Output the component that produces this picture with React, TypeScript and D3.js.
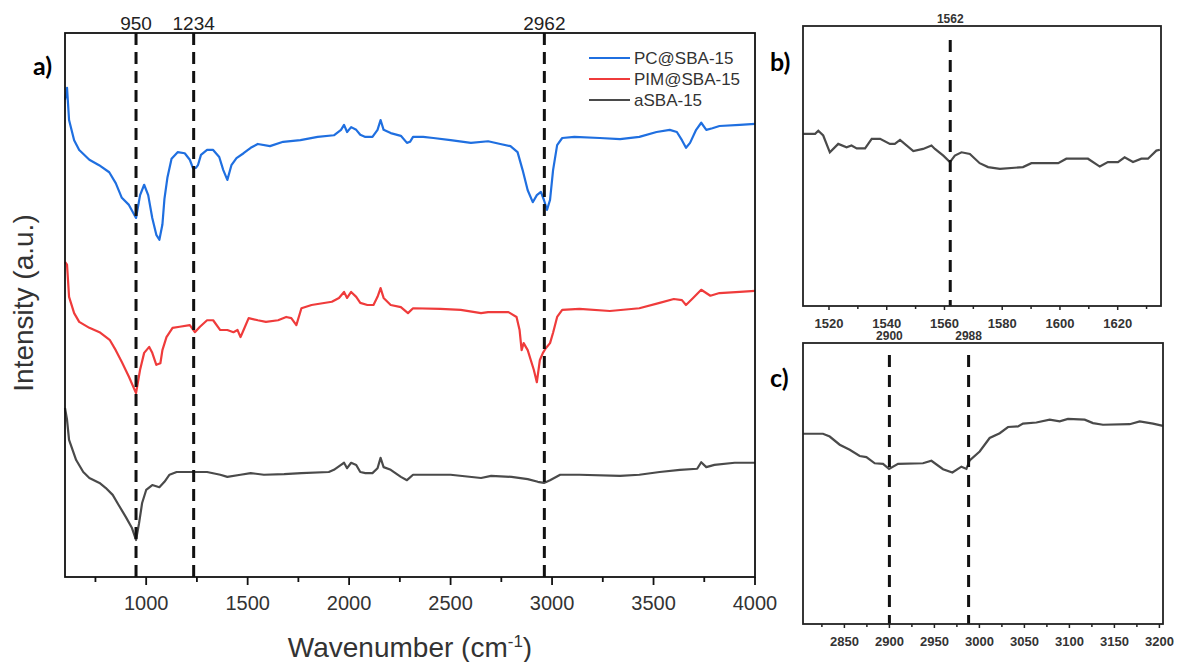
import React from "react";
import * as d3 from "d3";

// ---------- DATA ----------
const seriesNames = ["PC@SBA-15", "PIM@SBA-15", "aSBA-15"];
const seriesColors = ["#1f6fe0", "#ef3b3b", "#4a4a4a"];

// [wavenumber (cm-1), intensity (a.u.)]
const pcSBA15: [number, number][] = [
  [600, 87.7], [610, 89.9], [620, 84.0], [645, 80.3], [670, 78.5], [720, 76.7], [768, 75.7],
  [818, 74.4], [850, 72.4], [880, 69.7], [915, 68.4], [950, 66.0], [970, 70.2], [990, 72.1],
  [1010, 70.2], [1030, 66.0], [1050, 62.9], [1065, 62.0], [1080, 64.8], [1090, 69.5],
  [1105, 73.5], [1125, 76.9], [1155, 78.1], [1190, 77.9], [1215, 76.7], [1230, 75.2],
  [1245, 75.2], [1255, 75.7], [1270, 77.6], [1300, 78.5], [1330, 78.5], [1360, 77.2],
  [1380, 74.8], [1400, 73.0], [1420, 75.7], [1445, 77.0], [1480, 77.9], [1515, 78.9],
  [1550, 79.6], [1610, 79.2], [1675, 80.0], [1760, 80.3], [1845, 80.9], [1925, 81.2],
  [1960, 82.2], [1975, 83.1], [1990, 81.8], [2010, 82.7], [2035, 82.2], [2055, 81.3],
  [2080, 80.9], [2115, 80.9], [2140, 82.2], [2155, 84.0], [2170, 82.2], [2205, 81.6],
  [2255, 81.1], [2285, 79.8], [2300, 80.0], [2315, 80.9], [2365, 80.9], [2415, 80.7],
  [2500, 80.3], [2600, 79.8], [2685, 80.1], [2745, 79.6], [2795, 79.2], [2830, 78.1],
  [2855, 74.8], [2880, 71.1], [2905, 68.9], [2925, 70.2], [2945, 70.8], [2960, 69.3],
  [2975, 67.5], [2990, 69.3], [3005, 74.8], [3025, 79.4], [3050, 80.7], [3110, 80.9],
  [3235, 80.7], [3335, 80.5], [3430, 80.9], [3515, 81.8], [3580, 82.2], [3615, 81.8],
  [3640, 80.3], [3660, 78.9], [3680, 79.8], [3710, 82.2], [3735, 83.5], [3760, 82.2],
  [3790, 82.5], [3825, 82.9], [3925, 83.1], [4000, 83.3],
];

const pimSBA15: [number, number][] = [
  [600, 57.9], [610, 57.4], [620, 51.5], [645, 48.5], [670, 46.9], [720, 45.8], [770, 45.0],
  [820, 43.6], [850, 41.7], [880, 39.5], [915, 36.8], [950, 33.8], [970, 38.1], [990, 41.2],
  [1015, 42.3], [1030, 41.2], [1050, 39.0], [1070, 39.3], [1080, 41.7], [1100, 44.1],
  [1130, 45.8], [1165, 46.0], [1215, 46.3], [1240, 45.0], [1265, 46.0], [1300, 47.2],
  [1330, 47.2], [1365, 45.4], [1400, 45.4], [1430, 45.0], [1450, 45.4], [1465, 44.1],
  [1480, 45.4], [1505, 47.6], [1550, 47.2], [1590, 46.9], [1650, 47.2], [1690, 47.8],
  [1715, 47.6], [1740, 46.3], [1765, 49.4], [1815, 50.0], [1915, 50.6], [1950, 51.3],
  [1975, 52.4], [1990, 51.3], [2010, 52.4], [2035, 51.5], [2055, 50.4], [2090, 50.0],
  [2120, 50.0], [2140, 51.5], [2155, 53.1], [2170, 51.3], [2205, 50.0], [2255, 49.6],
  [2290, 48.5], [2315, 49.4], [2450, 49.3], [2550, 49.1], [2650, 48.5], [2685, 48.7],
  [2785, 48.7], [2825, 47.8], [2840, 45.4], [2850, 41.7], [2860, 43.0], [2880, 41.7],
  [2910, 38.1], [2925, 35.8], [2940, 39.9], [2955, 41.2], [2970, 42.1], [2990, 43.0],
  [3005, 44.9], [3025, 47.8], [3050, 49.1], [3135, 49.3], [3285, 48.9], [3430, 49.4],
  [3530, 50.4], [3600, 51.1], [3640, 50.9], [3660, 50.0], [3695, 51.3], [3735, 52.8],
  [3780, 51.7], [3825, 52.2], [3925, 52.4], [4000, 52.6],
];

const aSBA15: [number, number][] = [
  [600, 31.1], [610, 28.9], [620, 25.2], [655, 21.5], [690, 19.3], [720, 18.2], [770, 17.3],
  [800, 16.4], [835, 15.1], [865, 13.2], [900, 11.0], [930, 9.0], [950, 6.8], [965, 9.9],
  [980, 13.6], [1000, 16.0], [1030, 16.9], [1065, 16.5], [1090, 17.5], [1115, 18.8],
  [1150, 19.3], [1215, 19.3], [1300, 19.3], [1365, 18.8], [1400, 18.4], [1465, 18.8],
  [1515, 19.1], [1580, 18.8], [1680, 18.9], [1765, 19.1], [1900, 19.3], [1925, 19.7],
  [1960, 20.6], [1975, 21.0], [1990, 20.0], [2010, 21.0], [2035, 20.6], [2055, 19.3],
  [2080, 19.1], [2115, 19.1], [2140, 20.0], [2155, 21.9], [2170, 20.2], [2205, 19.7],
  [2255, 18.4], [2285, 17.8], [2315, 18.8], [2400, 18.8], [2500, 18.8], [2650, 18.2],
  [2700, 18.6], [2800, 18.4], [2880, 18.0], [2930, 17.5], [2960, 17.3], [2990, 17.8],
  [3040, 18.8], [3135, 18.8], [3335, 18.6], [3430, 18.8], [3530, 19.3], [3630, 19.7],
  [3715, 19.9], [3735, 21.1], [3760, 20.2], [3800, 20.6], [3900, 21.0], [4000, 21.0],
];

const insetB: [number, number][] = [
  [1511, 61.5], [1515.2, 61.5], [1516.3, 62.6], [1518, 60.9], [1520.3, 54.9], [1523.2, 57.9],
  [1526.1, 56.7], [1527.8, 57.3], [1529.6, 56.3], [1532.5, 56.3], [1534.8, 59.7], [1537.7, 59.7],
  [1541.1, 57.9], [1542.8, 57.9], [1544.6, 59.3], [1549.2, 55.3], [1552.6, 56.1], [1555.5, 57.3],
  [1556.7, 56.1], [1559.6, 53.7], [1561.9, 51.4], [1563.6, 53.7], [1565.9, 54.9], [1568.8, 54.3],
  [1572.2, 51.0], [1575.1, 49.6], [1579.2, 49.0], [1587.2, 49.6], [1590.1, 51.0], [1599.4, 51.0],
  [1602.2, 52.6], [1609.7, 52.6], [1613.8, 49.8], [1616.6, 51.4], [1620.1, 51.4], [1622.4, 53.1],
  [1625.3, 51.4], [1628.2, 52.6], [1630.5, 52.6], [1633.4, 55.5], [1634.6, 55.8],
];

const insetC: [number, number][] = [
  [2804, 67.7], [2826.2, 67.7], [2833.7, 66.7], [2844.8, 63.8], [2855.9, 62.0], [2867, 59.8],
  [2874.4, 59.4], [2883.7, 57.2], [2892.9, 57.0], [2899.6, 55.2], [2909.6, 57.0], [2937.3, 57.2],
  [2946.7, 58.1], [2959.6, 55.1], [2970, 53.9], [2980, 56.0], [2985.6, 55.2], [2989.2, 58.2],
  [3000.3, 61.4], [3011.4, 66.2], [3022.6, 67.9], [3031.8, 70.1], [3042.9, 70.3], [3048.4, 71.3],
  [3063.3, 71.7], [3078.1, 72.7], [3089.2, 72.1], [3098.4, 73.0], [3117, 72.7], [3126.2, 71.5],
  [3137.3, 70.9], [3167, 71.1], [3178.1, 72.1], [3192.9, 71.3], [3204, 70.5],
];

const mainMarkers = [950, 1234, 2962];
const markersB = [1562];
const markersC = [2900, 2988];
const mainTicks = [1000, 1500, 2000, 2500, 3000, 3500, 4000];
const mainMinor = [750, 1250, 1750, 2250, 2750, 3250, 3750];
const ticksB = [1520, 1540, 1560, 1580, 1600, 1620];
const minorB = [1530, 1550, 1570, 1590, 1610, 1630];
const ticksC = [2850, 2900, 2950, 3000, 3050, 3100, 3150, 3200];
const minorC = [2825, 2875, 2925, 2975, 3025, 3075, 3125, 3175];

// ---------- LAYOUT ----------
const W = 1177, H = 662;
const FONT = "'Liberation Sans', Arial, sans-serif";
const LABEL_FONT = "Lato, 'Open Sans', sans-serif";

const main = { l: 65, r: 755, t: 33, b: 577 };
const pb = { l: 803, r: 1161, t: 26, b: 306 };
const pc = { l: 803, r: 1163, t: 343, b: 624 };

export default function App() {
  const x = d3.scaleLinear().domain([600, 4000]).range([main.l, main.r]);
  const y = d3.scaleLinear().domain([0, 100]).range([main.b, main.t]);
  const line = d3.line<[number, number]>().x(d => x(d[0])).y(d => y(d[1]));

  const xb = d3.scaleLinear().domain([1511, 1635]).range([pb.l, pb.r]);
  const yb = d3.scaleLinear().domain([0, 100]).range([pb.b, pb.t]);
  const lineB = d3.line<[number, number]>().x(d => xb(d[0])).y(d => yb(d[1]));

  const xc = d3.scaleLinear().domain([2804, 3204]).range([pc.l, pc.r]);
  const yc = d3.scaleLinear().domain([0, 100]).range([pc.b, pc.t]);
  const lineC = d3.line<[number, number]>().x(d => xc(d[0])).y(d => yc(d[1]));

  const series = [pcSBA15, pimSBA15, aSBA15];

  return (
    <svg width={W} height={H} style={{ position: "absolute", left: 0, top: 0, background: "#fff" }}
      fontFamily={FONT}>
      <rect x={0} y={0} width={W} height={H} fill="#fff" />

      {/* ===== Panel a ===== */}
      {series.map((s, i) => (
        <path key={i} d={line(s) || ""} fill="none" stroke={seriesColors[i]} strokeWidth={2.2}
          strokeLinejoin="round" />
      ))}
      {mainMarkers.map(m => (
        <g key={m}>
          <line x1={x(m)} x2={x(m)} y1={main.t} y2={main.b} stroke="#111" strokeWidth={3}
            strokeDasharray="12,7" />
          <text x={x(m)} y={30} textAnchor="middle" fontSize={19} fill="#222">{m}</text>
        </g>
      ))}
      <rect x={main.l} y={main.t} width={main.r - main.l} height={main.b - main.t} fill="none"
        stroke="#111" strokeWidth={1.8} />
      {mainTicks.map(t => (
        <g key={t}>
          <line x1={x(t)} x2={x(t)} y1={main.b} y2={main.b + 8} stroke="#111" strokeWidth={1.8} />
          <text x={x(t)} y={610} textAnchor="middle" fontSize={20} fill="#333">{t}</text>
        </g>
      ))}
      {mainMinor.map(t => (
        <line key={t} x1={x(t)} x2={x(t)} y1={main.b} y2={main.b + 5} stroke="#111" strokeWidth={1.8} />
      ))}
      <text x={410} y={657} textAnchor="middle" fontSize={28} fill="#333">
        Wavenumber (cm<tspan dy={-10} fontSize={17}>-1</tspan><tspan dy={10}>)</tspan>
      </text>
      <text transform="translate(33,303) rotate(-90)" textAnchor="middle" fontSize={28} fill="#333">
        Intensity (a.u.)
      </text>
      <text x={33} y={75} fontSize={25} fontWeight="bold" fontFamily={LABEL_FONT} fill="#000">a)</text>

      {/* legend */}
      {seriesNames.map((n, i) => (
        <g key={n} transform={`translate(589,${58 + i * 21})`}>
          <line x1={0} x2={41} y1={0} y2={0} stroke={seriesColors[i]} strokeWidth={2.2} />
          <text x={45} y={6} fontSize={17} fill="#333">{n}</text>
        </g>
      ))}

      {/* ===== Panel b ===== */}
      <path d={lineB(insetB) || ""} fill="none" stroke="#4a4a4a" strokeWidth={2.2} />
      {markersB.map(m => (
        <g key={m}>
          <line x1={xb(m)} x2={xb(m)} y1={pb.t + 14} y2={pb.b} stroke="#111" strokeWidth={3}
            strokeDasharray="12,8" />
          <text x={xb(m)} y={23} textAnchor="middle" fontSize={12} fontWeight="bold" fill="#333">{m}</text>
        </g>
      ))}
      <rect x={pb.l} y={pb.t} width={pb.r - pb.l} height={pb.b - pb.t} fill="none" stroke="#222"
        strokeWidth={1.8} />
      {ticksB.map(t => (
        <g key={t}>
          <line x1={xb(t)} x2={xb(t)} y1={pb.b} y2={pb.b + 4} stroke="#222" strokeWidth={1.5} />
          <text x={xb(t)} y={328} textAnchor="middle" fontSize={13} fontWeight="bold" fill="#333">{t}</text>
        </g>
      ))}
      {minorB.map(t => (
        <line key={t} x1={xb(t)} x2={xb(t)} y1={pb.b} y2={pb.b + 3} stroke="#222" strokeWidth={1.5} />
      ))}
      <text x={770} y={71} fontSize={25} fontWeight="bold" fontFamily={LABEL_FONT} fill="#000">b)</text>

      {/* ===== Panel c ===== */}
      <path d={lineC(insetC) || ""} fill="none" stroke="#4a4a4a" strokeWidth={2.2} />
      {markersC.map(m => (
        <g key={m}>
          <line x1={xc(m)} x2={xc(m)} y1={pc.t + 12} y2={pc.b} stroke="#111" strokeWidth={3}
            strokeDasharray="12,8" />
          <text x={xc(m)} y={340} textAnchor="middle" fontSize={12} fontWeight="bold" fill="#333">{m}</text>
        </g>
      ))}
      <rect x={pc.l} y={pc.t} width={pc.r - pc.l} height={pc.b - pc.t} fill="none" stroke="#222"
        strokeWidth={1.8} />
      {ticksC.map(t => (
        <g key={t}>
          <line x1={xc(t)} x2={xc(t)} y1={pc.b} y2={pc.b + 4} stroke="#222" strokeWidth={1.5} />
          <text x={xc(t)} y={646} textAnchor="middle" fontSize={13} fontWeight="bold" fill="#333">{t}</text>
        </g>
      ))}
      {minorC.map(t => (
        <line key={t} x1={xc(t)} x2={xc(t)} y1={pc.b} y2={pc.b + 3} stroke="#222" strokeWidth={1.5} />
      ))}
      <text x={770} y={387} fontSize={25} fontWeight="bold" fontFamily={LABEL_FONT} fill="#000">c)</text>
    </svg>
  );
}
